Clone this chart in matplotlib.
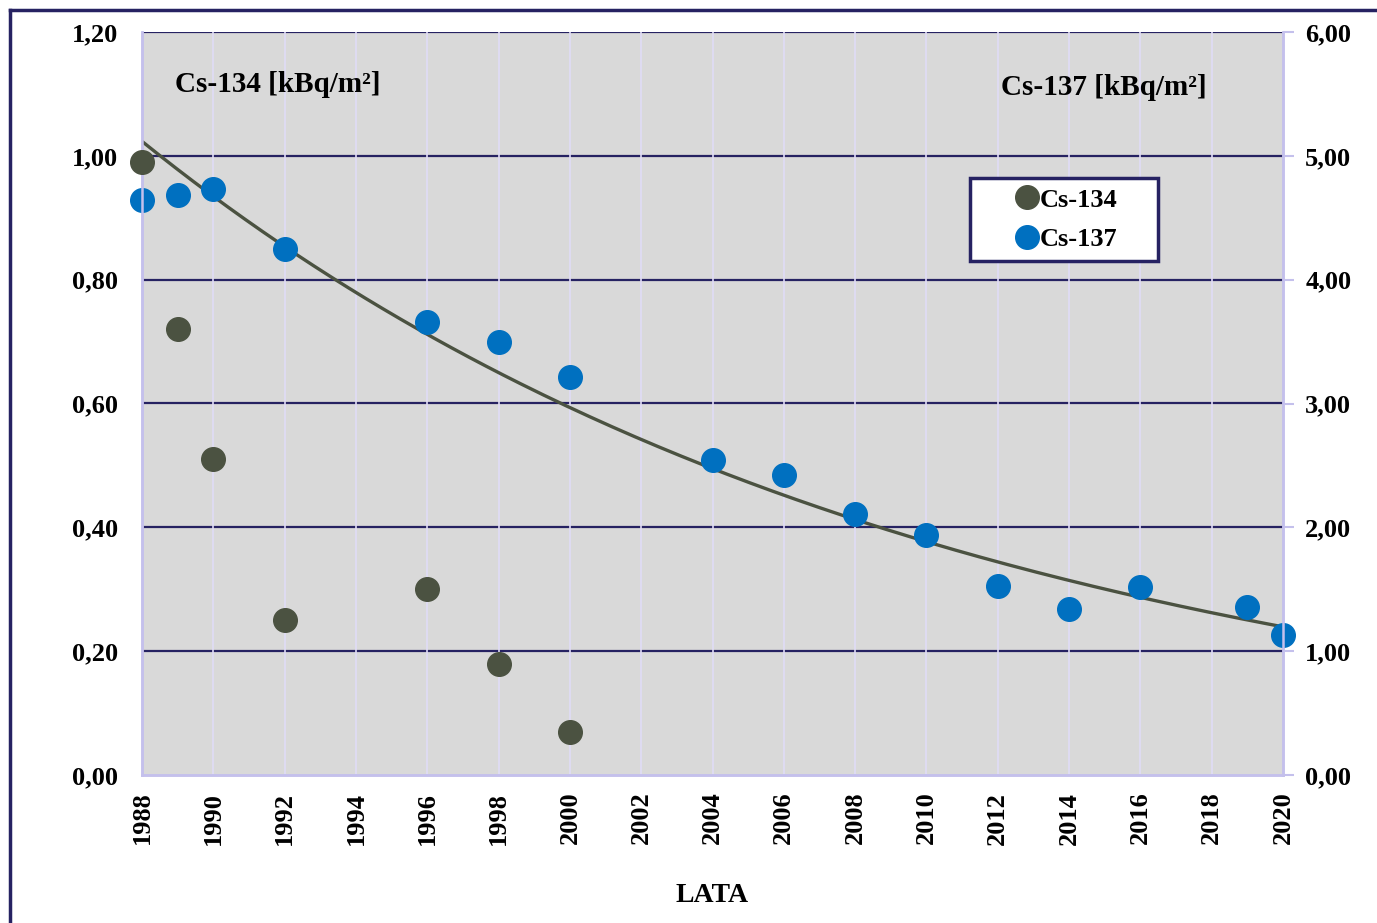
import numpy as np
import matplotlib.pyplot as plt
from matplotlib.lines import Line2D
from matplotlib.patches import Rectangle

# Dane
lata_cs134 = [1988, 1989, 1990, 1992, 1996, 1998, 2000]
cs134 = [0.99, 0.72, 0.51, 0.25, 0.30, 0.18, 0.07]

lata_cs137 = [1988, 1989, 1990, 1992, 1996, 1998, 2000, 2004, 2006, 2008,
              2010, 2012, 2014, 2016, 2019, 2020]
cs137 = [4.64, 4.68, 4.73, 4.25, 3.66, 3.50, 3.21, 2.54, 2.42, 2.11,
         1.94, 1.53, 1.34, 1.52, 1.36, 1.13]

lata_ticks = list(range(1988, 2021, 2))
y_left_ticks = [0.0, 0.2, 0.4, 0.6, 0.8, 1.0, 1.2]
y_right_ticks = [0.0, 1.0, 2.0, 3.0, 4.0, 5.0, 6.0]

plt.rcParams['font.family'] = 'Liberation Serif'
plt.rcParams['font.weight'] = 'bold'

navy = '#262262'
lawenda = '#c4c0ec'
olive = '#4b5241'
blue = '#0070c0'

fig = plt.figure(figsize=(13.77, 9.23), dpi=100)
pos = [142/1377, 1-775/923, 1141/1377, 743/923]

# tlo z siatka (pod punktami)
ax_bg = fig.add_axes(pos, zorder=0)
ax_bg.set_facecolor('#d9d9d9')
ax_bg.set_xlim(1988, 2020)
ax_bg.set_ylim(0, 1.2)
for v in y_left_ticks[1:]:
    ax_bg.axhline(v, color=navy, lw=1.6)
for r in lata_ticks[1:-1]:
    ax_bg.axvline(r, color='#e0dcf6', lw=1.2)
ax_bg.set_xticks([])
ax_bg.set_yticks([])
for s in ax_bg.spines.values():
    s.set_visible(False)

ax2 = fig.add_axes(pos, zorder=1)
ax1 = fig.add_axes(pos, zorder=2)
ax1.patch.set_visible(False)
ax2.patch.set_visible(False)

# Linia trendu wykladniczego (dopasowanie jak w Excelu)
b, a = np.polyfit(np.array(lata_cs137) - 1988, np.log(cs137), 1)
xt = np.linspace(1988, 2020, 200)
ax2.plot(xt, np.exp(a + b * (xt - 1988)), color=olive, lw=2.4, zorder=3)
ax2.plot(lata_cs137, cs137, 'o', color=blue, ms=17, zorder=4, clip_on=False)
ax1.plot(lata_cs134, cs134, 'o', color=olive, ms=17, zorder=4, clip_on=False)

ax1.set_xlim(1988, 2020)
ax2.set_xlim(1988, 2020)
ax1.set_ylim(0, 1.2)
ax2.set_ylim(0, 6)
ax2.set_xticks([])
ax1.set_xticks(lata_ticks)
ax1.set_xticklabels([str(r) for r in lata_ticks], rotation=90, fontsize=19, fontweight='bold')
ax1.set_yticks(y_left_ticks)
ax1.set_yticklabels([f'{v:.2f}'.replace('.', ',') for v in y_left_ticks], fontsize=19, fontweight='bold')
ax2.yaxis.tick_right()
ax2.set_yticks(y_right_ticks)
ax2.set_yticklabels([f'{v:.2f}'.replace('.', ',') for v in y_right_ticks], fontsize=19, fontweight='bold')

ax1.tick_params(axis='y', length=0, pad=17)
ax1.tick_params(axis='x', length=0, pad=12)
ax2.tick_params(axis='y', length=8, width=1.5, color=lawenda, pad=8)

for ax in (ax1, ax2):
    ax.spines['top'].set_visible(False)
    for s in ('left', 'right', 'bottom'):
        ax.spines[s].set_color(lawenda)
        ax.spines[s].set_linewidth(1.8)

ax1.text(0.029, 0.93, 'Cs-134 [kBq/m²]', transform=ax1.transAxes, fontsize=21,
         fontweight='bold', va='center', ha='left')
ax1.text(0.753, 0.925, 'Cs-137 [kBq/m²]', transform=ax1.transAxes, fontsize=21,
         fontweight='bold', va='center', ha='left')

fig.text(712/1377, 1-895/923, 'LATA', fontsize=20, fontweight='bold', ha='center', va='center')

# legenda: ramka rysowana osobno
ax1.add_patch(Rectangle((0.7257, 0.6918), 0.1648, 0.1117, transform=ax1.transAxes,
                        facecolor='white', edgecolor=navy, lw=2.5, zorder=9))
handles = [Line2D([], [], marker='o', ls='', color=olive, ms=17),
           Line2D([], [], marker='o', ls='', color=blue, ms=17)]
leg = ax1.legend(handles, ['Cs-134', 'Cs-137'], loc='center',
                 bbox_to_anchor=(0.8097, 0.7477), borderaxespad=0,
                 prop={'size': 19, 'weight': 'bold'}, frameon=False,
                 handlelength=1.0, handletextpad=0.0, borderpad=0,
                 labelspacing=0.6)
leg.set_zorder(10)

# ramka wykresu
fig.add_artist(Line2D([10/1377, 10/1377], [0, 1-10/923], color=navy, lw=2.5))
fig.add_artist(Line2D([10/1377, 1], [1-10/923, 1-10/923], color=navy, lw=2.5))

fig.savefig('out.png', dpi=100)
